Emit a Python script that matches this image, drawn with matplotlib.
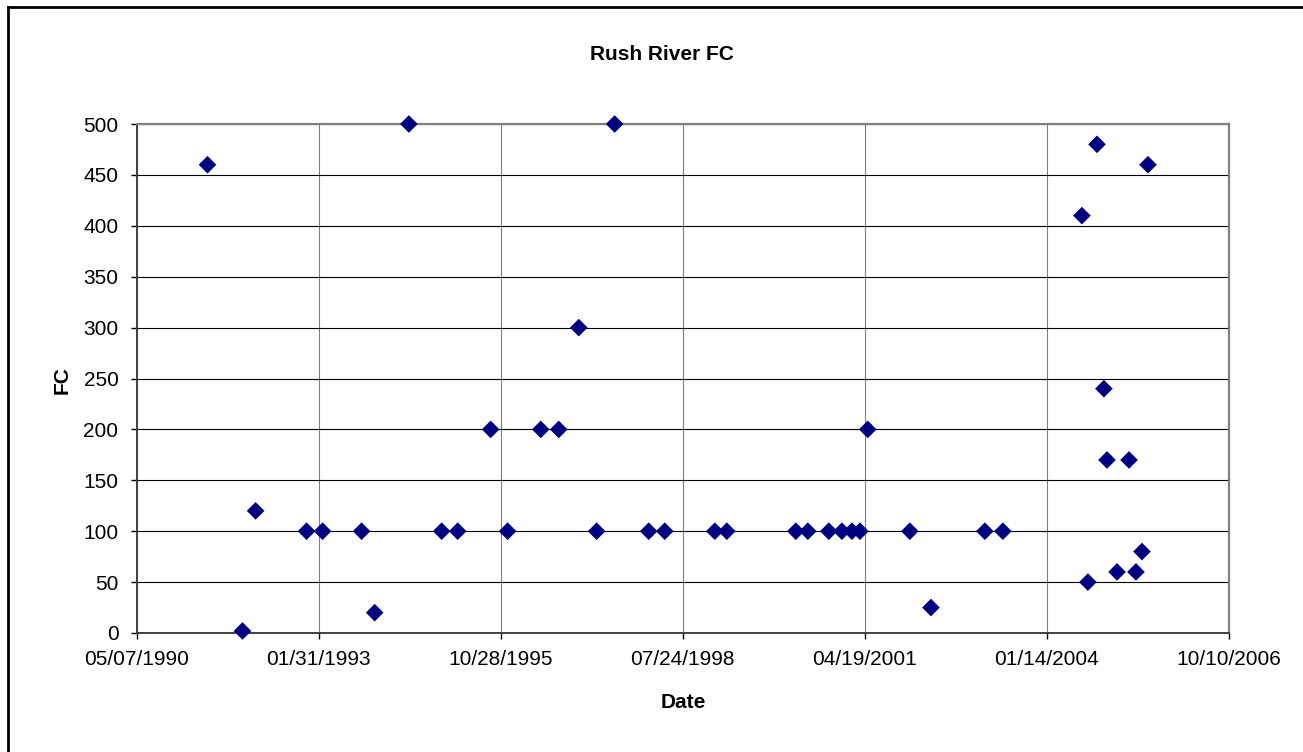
import matplotlib
matplotlib.use("Agg")
import matplotlib.pyplot as plt
import matplotlib.dates as mdates
from matplotlib.lines import Line2D
import pandas as pd

plt.rcParams['font.family'] = ['Liberation Sans', 'DejaVu Sans']

title = "Rush River FC"
x_label = "Date"
y_label = "FC"

dates = [
    "1991-06-01", "1991-12-10", "1992-02-20", "1992-11-26", "1993-02-22",
    "1993-09-24", "1993-12-05", "1994-06-11", "1994-12-08", "1995-03-06",
    "1995-09-03", "1995-12-05", "1996-06-04", "1996-09-11", "1996-12-30",
    "1997-04-07", "1997-07-15", "1998-01-18", "1998-04-16", "1999-01-16",
    "1999-03-23", "2000-04-05", "2000-06-10", "2000-10-03", "2000-12-14",
    "2001-02-07", "2001-03-23", "2001-05-05", "2001-12-22", "2002-04-17",
    "2003-02-07", "2003-05-17", "2004-07-24", "2004-08-26", "2004-10-15",
    "2004-11-22", "2004-12-09", "2005-02-02", "2005-04-09", "2005-05-17",
    "2005-06-19", "2005-07-22",
]
fc = [
    460, 2, 120, 100, 100,
    100, 20, 500, 100, 100,
    200, 100, 200, 200, 300,
    100, 500, 100, 100, 100,
    100, 100, 100, 100, 100,
    100, 100, 200, 100, 25,
    100, 100, 410, 50, 480,
    240, 170, 60, 170, 60,
    80, 460,
]

x_tick_labels = ["05/07/1990", "01/31/1993", "10/28/1995", "07/24/1998",
                 "04/19/2001", "01/14/2004", "10/10/2006"]
y_ticks = list(range(0, 501, 50))

W, H = 1303, 752
fig = plt.figure(figsize=(W / 100, H / 100), dpi=100)
fig.patch.set_facecolor('white')

L, R, T, B = 136.5, 1229, 124, 633
ax = fig.add_axes([L / W, 1 - B / H, (R - L) / W, (B - T) / H])

xd = pd.to_datetime(dates)
ax.scatter(xd, fc, marker='D', s=9.0 ** 2, color='#000080', edgecolors='none',
           zorder=5, clip_on=False)

xt = pd.to_datetime(x_tick_labels, format="%m/%d/%Y")
ax.set_xlim(xt[0], xt[-1])
ax.set_xticks(xt)
ax.xaxis.set_major_formatter(mdates.DateFormatter("%m/%d/%Y"))
ax.set_ylim(0, 500)
ax.set_yticks(y_ticks)

ax.grid(axis='y', color='black', linewidth=0.8, zorder=1)
ax.grid(axis='x', color='#808080', linewidth=0.8, zorder=1)
ax.set_axisbelow(True)

for s in ['top', 'right']:
    ax.spines[s].set_color('#808080')
    ax.spines[s].set_linewidth(1.6)
for s in ['left', 'bottom']:
    ax.spines[s].set_color('#404040')
    ax.spines[s].set_linewidth(1.4)

ax.tick_params(axis='both', direction='out', length=4, width=1.0, color='black',
               labelsize=15, labelcolor='black')
ax.tick_params(axis='x', pad=8)
ax.tick_params(axis='y', pad=9)

fig.text(662 / W, 1 - 54 / H, title, ha='center', va='center',
         fontsize=15, fontweight='bold')
fig.text(683 / W, 1 - 703 / H, x_label, ha='center', va='center',
         fontsize=15, fontweight='bold')
fig.text(62 / W, 1 - 380 / H, y_label, ha='center', va='center',
         fontsize=15, fontweight='bold', rotation=90)

# outer chart-area border (left and top visible)
fig.add_artist(Line2D([8 / W, 8 / W], [0, 1 - 7 / H], transform=fig.transFigure,
                      color='black', linewidth=2.0))
fig.add_artist(Line2D([8 / W, 1], [1 - 7 / H, 1 - 7 / H], transform=fig.transFigure,
                      color='black', linewidth=2.0))

fig.savefig("out.png", dpi=100, facecolor='white')
